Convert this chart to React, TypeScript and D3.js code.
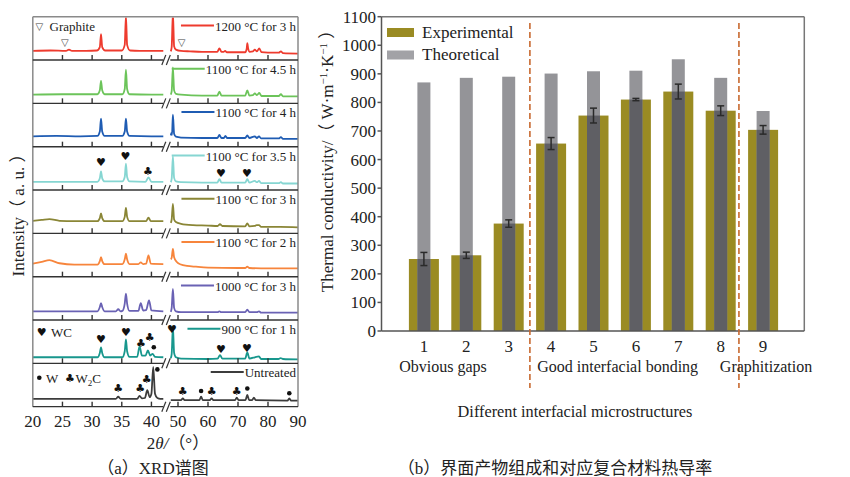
import React, { useEffect, useRef } from 'react';
import * as d3 from 'd3';

type Pt = [number, number];

// ---------------- (a) XRD data ----------------
const xrdLabels = [
  '1200 °C for 3 h',
  '1100 °C for 4.5 h',
  '1100 °C for 4 h',
  '1100 °C for 3.5 h',
  '1100 °C for 3 h',
  '1100 °C for 2 h',
  '1000 °C for 3 h',
  '900 °C for 1 h',
  'Untreated',
];
const xrdColors = ['#ee3b2e', '#6cc45a', '#1f5cb3', '#86d6d2', '#8a8636', '#f7853c', '#6a62b4', '#18978d', '#3c3c3c'];

const p1200: Pt[] = [
  [20, 21], [23, 22], [25.6, 21], [26.1, 24], [26.6, 21], [29, 21], [30.8, 22], [31.3, 30], [31.5, 60], [31.7, 30], [32.2, 22],
  [35, 22], [35.5, 35], [35.7, 102], [35.9, 35], [36.4, 22], [38, 21], [42, 21],
  [47.6, 20], [47.9, 30], [48.3, 110], [48.7, 32], [49.3, 24], [51, 21], [54, 20], [58, 19], [63.1, 19], [63.8, 27], [64.5, 19],
  [65.2, 19], [65.7, 21], [66.3, 18], [72.4, 18], [72.9, 26], [73.1, 39], [73.4, 26], [73.9, 19], [75, 20], [75.6, 24], [76.3, 20],
  [77.1, 27], [77.8, 18], [80, 17], [83.6, 17], [84.3, 20], [85, 16], [90, 15],
];
const p1100h45: Pt[] = [
  [20, 20], [25, 21], [30, 21], [30.9, 21], [31.3, 30], [31.5, 52], [31.7, 30], [32.1, 21], [35.1, 21], [35.5, 33], [35.7, 78],
  [35.9, 33], [36.3, 21], [40, 20], [42, 20],
  [47.6, 20], [47.9, 28], [48.3, 83], [48.7, 30], [49.3, 22], [51, 20], [58, 18], [63.1, 18], [63.8, 27], [64.5, 18], [72.4, 18],
  [73.1, 30], [73.8, 18], [75, 19], [75.6, 23], [76.3, 19], [77.1, 24], [77.8, 17], [83.6, 17], [84.3, 21], [85, 16], [90, 16],
];
const p1100h4: Pt[] = [
  [20, 24], [24, 25], [28, 24], [30.9, 25], [31.3, 35], [31.5, 65], [31.7, 35], [32.1, 25], [35.1, 25], [35.5, 35], [35.7, 65],
  [35.9, 35], [36.3, 25], [40, 24], [42, 24],
  [47.6, 26], [47.8, 32], [48.0, 27], [48.3, 74], [48.7, 30], [49.3, 23], [51, 21], [58, 20], [63.1, 20], [63.8, 27], [64.5, 20],
  [65.3, 20], [65.8, 25], [66.4, 20], [72.4, 20], [73.1, 26], [73.8, 20], [75.6, 24], [76.3, 20], [77, 24], [77.7, 19], [83.6, 19],
  [84.3, 22], [85, 18], [90, 18],
];
const p1100h35: Pt[] = [
  [20, 19], [25, 19], [30.9, 19], [31.3, 27], [31.5, 43], [31.7, 27], [32.1, 20], [35.1, 20], [35.5, 30], [35.7, 61], [35.9, 30],
  [36.3, 20], [39.0, 19], [39.5, 29], [40.0, 19], [42, 19],
  [47.6, 18], [47.9, 26], [48.3, 78], [48.7, 28], [49.3, 20], [51, 18], [58, 17], [63.1, 17], [63.8, 25], [64.5, 17], [72.4, 17],
  [73.1, 25], [73.8, 17], [75.6, 21], [76.3, 18], [77, 21], [77.7, 16], [83.6, 16], [84.3, 18], [85, 15], [90, 15],
];
const p1100h3: Pt[] = [
  [20, 29], [21.5, 31], [22.8, 33], [24.5, 29], [27, 28], [30.9, 28], [31.3, 35], [31.5, 46], [31.7, 35], [32.1, 28], [35.1, 28],
  [35.5, 38], [35.7, 59], [35.9, 38], [36.3, 28], [39.1, 28], [39.5, 36], [39.9, 28], [42, 28],
  [47.6, 24], [47.9, 32], [48.3, 68], [48.7, 32], [49.3, 26], [51, 22], [55, 19], [60, 18], [63.2, 17], [64, 21], [64.8, 17],
  [72.4, 16], [73.1, 23], [73.8, 16], [75.6, 17], [76.2, 19], [77, 19], [77.7, 15], [84, 15], [90, 14],
];
const p1100h2: Pt[] = [
  [20, 30], [21.5, 34], [22.8, 38], [24.5, 31], [27, 28], [30.9, 28], [31.3, 36], [31.5, 45], [31.7, 36], [32.1, 29], [35.1, 29],
  [35.5, 40], [35.7, 53], [35.9, 40], [36.3, 29], [37.8, 29], [38.2, 33], [38.6, 29], [39.1, 30], [39.5, 49], [39.9, 30], [42, 29],
  [47.6, 40], [47.9, 44], [48.3, 64], [48.7, 45], [49.6, 34], [51, 28], [53, 25], [56, 23], [60, 21], [70, 20], [72.4, 20],
  [73.1, 23], [73.8, 20], [80, 19], [90, 19],
];
const p1000h3: Pt[] = [
  [20, 20], [25, 20], [30.9, 20], [31.3, 30], [31.5, 39], [31.7, 30], [32.1, 20], [34.0, 20], [34.4, 25], [34.8, 20], [35.1, 21],
  [35.5, 38], [35.7, 61], [35.9, 38], [36.3, 21], [37.8, 21], [38.2, 39], [38.6, 22], [39.1, 23], [39.6, 45], [40.0, 22], [42, 20],
  [47.6, 19], [47.9, 28], [48.3, 72], [48.7, 28], [49.3, 20], [51, 18], [60, 18], [63.2, 18], [63.8, 20], [64.4, 18], [72.4, 18],
  [73.1, 24], [73.8, 18], [76.3, 18], [77, 20], [77.7, 17], [90, 17],
];
const p900h1: Pt[] = [
  [20, 14], [25, 14], [30.9, 14], [31.3, 24], [31.5, 37], [31.7, 24], [32.1, 14], [35.1, 14], [35.5, 28], [35.7, 55], [35.9, 28],
  [36.3, 15], [37.6, 15], [38.0, 39], [38.4, 18], [39.0, 18], [39.4, 30], [39.8, 18], [40.2, 22], [40.6, 15], [42, 14],
  [47.6, 12], [47.9, 22], [48.3, 86], [48.7, 24], [49.3, 14], [51, 11], [60, 10], [63.2, 11], [64, 19], [64.8, 11], [72.4, 11],
  [73.1, 25], [73.8, 11], [75.6, 14], [76.1, 15], [77, 16], [77.7, 10], [83.5, 10], [84.2, 12], [85, 10], [90, 9],
];
const pUntreated: Pt[] = [
  [20, 18], [25, 18], [30, 18], [34.0, 18], [34.4, 23], [34.8, 18], [37.6, 18], [38.0, 25], [38.4, 19], [38.9, 20], [39.3, 38],
  [39.7, 22], [40.0, 30], [40.3, 92], [40.6, 30], [41.0, 20], [41.5, 18], [42, 18],
  [47.6, 15], [51.0, 15], [51.6, 19], [52.2, 15], [57.1, 15], [57.7, 23], [58.3, 15], [60.6, 15], [61.2, 19], [61.8, 15],
  [69.0, 15], [69.6, 21], [70.2, 15], [72.5, 15], [73.1, 27], [73.7, 15], [74.7, 15], [75.3, 21], [75.9, 15], [86.5, 14],
  [87.1, 19], [87.7, 14], [90, 14],
];
const xrdSeries: Pt[][] = [p1200, p1100h45, p1100h4, p1100h35, p1100h3, p1100h2, p1000h3, p900h1, pUntreated];

const xrdTicksLeft = [20, 25, 30, 35, 40];
const xrdTicksRight = [50, 60, 70, 80, 90];

// phase markers: panel index, 2theta, intensity level, symbol
const xrdMarkers: { panel: number; theta: number; value: number; sym: string }[] = [
  { panel: 0, theta: 25.4, value: 40, sym: 'tri' },
  { panel: 0, theta: 51.2, value: 41, sym: 'tri' },
  { panel: 3, theta: 31.5, value: 65, sym: 'heart' },
  { panel: 3, theta: 35.6, value: 79, sym: 'heart' },
  { panel: 3, theta: 39.4, value: 44, sym: 'club' },
  { panel: 3, theta: 64.3, value: 38, sym: 'heart' },
  { panel: 3, theta: 73.0, value: 38, sym: 'heart' },
  { panel: 7, theta: 31.5, value: 56, sym: 'heart' },
  { panel: 7, theta: 35.7, value: 71, sym: 'heart' },
  { panel: 7, theta: 38.25, value: 47, sym: 'club' },
  { panel: 7, theta: 39.7, value: 60, sym: 'club' },
  { panel: 7, theta: 40.4, value: 37, sym: 'dot' },
  { panel: 7, theta: 48.0, value: 80, sym: 'heart' },
  { panel: 7, theta: 64.3, value: 33, sym: 'heart' },
  { panel: 7, theta: 73.0, value: 36, sym: 'heart' },
  { panel: 8, theta: 41.0, value: 86, sym: 'dot' },
  { panel: 8, theta: 39.2, value: 64, sym: 'club' },
  { panel: 8, theta: 38.1, value: 42, sym: 'club' },
  { panel: 8, theta: 34.4, value: 42, sym: 'club' },
  { panel: 8, theta: 51.6, value: 35, sym: 'club' },
  { panel: 8, theta: 57.7, value: 36, sym: 'dot' },
  { panel: 8, theta: 61.2, value: 35, sym: 'club' },
  { panel: 8, theta: 69.6, value: 35, sym: 'club' },
  { panel: 8, theta: 73.1, value: 42, sym: 'dot' },
  { panel: 8, theta: 87.1, value: 31, sym: 'dot' },
];

// ---------------- (b) thermal conductivity data ----------------
const categories = ['1', '2', '3', '4', '5', '6', '7', '8', '9'];
const experimental = [252, 265, 376, 656, 754, 810, 838, 771, 704];
const experimentalError = [23, 11, 13, 21, 26, 4, 26, 17, 15];
const theoretical = [870, 886, 890, 901, 909, 911, 951, 886, 770];
const groupLabels = ['Obvious gaps', 'Good interfacial bonding', 'Graphitization'];
const yTicks = [0, 100, 200, 300, 400, 500, 600, 700, 800, 900, 1000, 1100];

const SERIF = "'Liberation Serif','Times New Roman',serif";
const MIXED = "'Liberation Serif','Noto Sans CJK SC',serif";
const SYM = "'DejaVu Sans',sans-serif";

export default function App() {
  const ref = useRef<SVGSVGElement>(null);

  useEffect(() => {
    const svg = d3.select(ref.current as SVGSVGElement);
    svg.selectAll('*').remove();
    const defs = svg.append('defs');

    // ================= (a) XRD =================
    const top0 = 16.7;
    const ph = 43.33;
    const left = 32.8;
    const right = 298;
    const xL = d3.scaleLinear().domain([20, 42]).range([32.8, 163.3]);
    const xR = d3.scaleLinear().domain([47.5, 90]).range([170.5, 298]);
    const xOf = (t: number) => (t < 45 ? xL(t) : xR(t));
    const panelY = (i: number) => d3.scaleLinear().domain([0, 100]).range([top0 + (i + 1) * ph, top0 + i * ph]);

    xrdSeries.forEach((pts, i) => {
      const y = panelY(i);
      const id = `xclip${i}`;
      defs.append('clipPath').attr('id', id).append('rect')
        .attr('x', left).attr('y', top0 + i * ph + 0.8).attr('width', right - left).attr('height', ph - 1);
      const line = d3.line<Pt>().x(d => xOf(d[0])).y(d => y(d[1])).curve(d3.curveMonotoneX);
      [pts.filter(d => d[0] < 45), pts.filter(d => d[0] > 45)].forEach(seg => {
        svg.append('path').attr('d', line(seg) || '').attr('fill', 'none')
          .attr('stroke', xrdColors[i]).attr('stroke-width', 1.8).attr('stroke-linejoin', 'round')
          .attr('clip-path', `url(#${id})`);
      });
      const ptop = top0 + i * ph;
      const t = svg.append('text').attr('x', 296).attr('y', ptop + 14).attr('text-anchor', 'end')
        .attr('font-family', SERIF).attr('font-size', 13).attr('fill', '#222').text(xrdLabels[i]);
      const w = (t.node() as SVGTextElement).getComputedTextLength();
      svg.append('line').attr('x1', 296 - w - 34).attr('x2', 296 - w - 1)
        .attr('y1', ptop + 8.7).attr('y2', ptop + 8.7).attr('stroke', xrdColors[i]).attr('stroke-width', 2);
    });

    // frame
    const fr = svg.append('g').attr('stroke', '#8a8a8a').attr('stroke-width', 1.5);
    fr.append('line').attr('x1', left).attr('x2', right).attr('y1', top0).attr('y2', top0);
    fr.append('line').attr('x1', left).attr('x2', left).attr('y1', top0).attr('y2', top0 + 9 * ph);
    fr.append('line').attr('x1', right).attr('x2', right).attr('y1', top0).attr('y2', top0 + 9 * ph);

    for (let k = 1; k <= 9; k++) {
      const yy = top0 + k * ph;
      const g = svg.append('g').attr('stroke', '#333').attr('stroke-width', 1.4);
      g.append('line').attr('x1', left).attr('x2', 163.3).attr('y1', yy).attr('y2', yy);
      g.append('line').attr('x1', 170.3).attr('x2', right).attr('y1', yy).attr('y2', yy);
      xrdTicksLeft.slice(1).forEach(tk => {
        g.append('line').attr('x1', xL(tk)).attr('x2', xL(tk)).attr('y1', yy).attr('y2', yy - 5);
      });
      xrdTicksRight.slice(0, 4).forEach(tk => {
        g.append('line').attr('x1', xR(tk)).attr('x2', xR(tk)).attr('y1', yy).attr('y2', yy - 5);
      });
      [163.8, 168.3].forEach(cx => {
        g.append('line').attr('x1', cx - 2).attr('x2', cx + 2).attr('y1', yy + 5).attr('y2', yy - 5).attr('stroke-width', 1.2);
      });
    }

    // bottom tick labels
    const tl = svg.append('g').attr('font-family', SERIF).attr('font-size', 17).attr('fill', '#222').attr('text-anchor', 'middle');
    xrdTicksLeft.forEach(tk => tl.append('text').attr('x', xL(tk)).attr('y', 426.5).text(String(tk)));
    xrdTicksRight.forEach(tk => tl.append('text').attr('x', xR(tk)).attr('y', 426.5).text(String(tk)));

    // markers
    xrdMarkers.forEach(m => {
      const y = panelY(m.panel)(m.value);
      const x = xOf(m.theta);
      if (m.sym === 'dot') {
        svg.append('circle').attr('cx', x).attr('cy', y).attr('r', 2.3).attr('fill', '#111');
      } else {
        const ch = m.sym === 'heart' ? '♥' : m.sym === 'club' ? '♣' : '▽';
        svg.append('text').attr('x', x).attr('y', y).attr('dy', '0.35em').attr('text-anchor', 'middle')
          .attr('font-family', SYM).attr('font-size', m.sym === 'tri' ? 10 : 11).attr('fill', m.sym === 'tri' ? '#444' : '#111').text(ch);
      }
    });

    // phase legends
    svg.append('text').attr('x', 39.3).attr('y', 26).attr('dy', '0.35em').attr('text-anchor', 'middle')
      .attr('font-family', SYM).attr('font-size', 10).attr('fill', '#444').text('▽');
    svg.append('text').attr('x', 49.5).attr('y', 31).attr('font-family', SERIF).attr('font-size', 13).attr('fill', '#222').text('Graphite');
    svg.append('text').attr('x', 41.7).attr('y', 331.7).attr('dy', '0.35em').attr('text-anchor', 'middle')
      .attr('font-family', SYM).attr('font-size', 11).attr('fill', '#111').text('♥');
    svg.append('text').attr('x', 51).attr('y', 336.5).attr('font-family', SERIF).attr('font-size', 13).attr('fill', '#222').text('WC');
    svg.append('circle').attr('cx', 39.3).attr('cy', 377.7).attr('r', 2.3).attr('fill', '#111');
    svg.append('text').attr('x', 46).attr('y', 382.5).attr('font-family', SERIF).attr('font-size', 13).attr('fill', '#222').text('W');
    svg.append('text').attr('x', 70).attr('y', 377.7).attr('dy', '0.35em').attr('text-anchor', 'middle')
      .attr('font-family', SYM).attr('font-size', 11).attr('fill', '#111').text('♣');
    const w2c = svg.append('text').attr('x', 75.5).attr('y', 382.5).attr('font-family', SERIF).attr('font-size', 13).attr('fill', '#222');
    w2c.append('tspan').text('W');
    w2c.append('tspan').attr('font-size', 9).attr('dy', 3).text('2');
    w2c.append('tspan').attr('dy', -3).text('C');

    // axis titles
    const yt = svg.append('text').attr('transform', 'translate(24,211) rotate(-90)').attr('text-anchor', 'middle')
      .attr('font-family', MIXED).attr('font-size', 17).attr('fill', '#222');
    yt.text('Intensity（ a. u. ）');
    const xt = svg.append('text').attr('x', 178).attr('y', 449).attr('text-anchor', 'middle')
      .attr('font-family', MIXED).attr('font-size', 17).attr('fill', '#222');
    xt.append('tspan').text('2');
    xt.append('tspan').attr('font-style', 'italic').text('θ/');
    xt.append('tspan').text('（°）');
    svg.append('text').attr('x', 153).attr('y', 474).attr('text-anchor', 'middle')
      .attr('font-family', MIXED).attr('font-size', 17).attr('fill', '#222').text('（a）XRD谱图');

    // ================= (b) Thermal conductivity =================
    const bx0 = 381.5;
    const bx1 = 804.3;
    const by0 = 331;
    const by1 = 16.7;
    const xs = d3.scaleLinear().domain([0, 10]).range([381.5, 805.5]);
    const ys = d3.scaleLinear().domain([0, 1100]).range([by0, by1]);

    const bars = svg.append('g');
    categories.forEach((c, i) => {
      const cx = xs(i + 1);
      const e = experimental[i];
      const th = theoretical[i];
      bars.append('rect').attr('x', cx - 15).attr('width', 30).attr('y', ys(e)).attr('height', ys(0) - ys(e))
        .attr('fill', '#9a8b23');
      bars.append('rect').attr('x', cx - 6.5).attr('width', 13).attr('y', ys(th)).attr('height', ys(0) - ys(th))
        .attr('fill', '#949498');
      const lo = Math.min(e, th);
      bars.append('rect').attr('x', cx - 6.5).attr('width', 13).attr('y', ys(lo)).attr('height', ys(0) - ys(lo))
        .attr('fill', '#5f5f64');
      const err = experimentalError[i];
      const eg = bars.append('g').attr('stroke', '#2a2a2a').attr('stroke-width', 1.5);
      eg.append('line').attr('x1', cx).attr('x2', cx).attr('y1', ys(e + err)).attr('y2', ys(e - err));
      eg.append('line').attr('x1', cx - 3.5).attr('x2', cx + 3.5).attr('y1', ys(e + err)).attr('y2', ys(e + err));
      eg.append('line').attr('x1', cx - 3.5).attr('x2', cx + 3.5).attr('y1', ys(e - err)).attr('y2', ys(e - err));
      svg.append('text').attr('x', cx).attr('y', 351.5).attr('text-anchor', 'middle')
        .attr('font-family', SERIF).attr('font-size', 17).attr('fill', '#222').text(c);
    });

    // frame / axes
    const bf = svg.append('g').attr('stroke', '#777').attr('stroke-width', 1.5).attr('fill', 'none');
    bf.append('line').attr('x1', bx0).attr('x2', bx1).attr('y1', by1).attr('y2', by1);
    bf.append('line').attr('x1', bx1).attr('x2', bx1).attr('y1', by1).attr('y2', by0);
    bf.append('line').attr('x1', bx0).attr('x2', bx0).attr('y1', by1).attr('y2', by0).attr('stroke', '#555');
    bf.append('line').attr('x1', bx0).attr('x2', bx1).attr('y1', by0).attr('y2', by0).attr('stroke', '#555');
    yTicks.forEach(v => {
      bf.append('line').attr('x1', bx0 - 4).attr('x2', bx0).attr('y1', ys(v)).attr('y2', ys(v)).attr('stroke', '#555');
      svg.append('text').attr('x', 376).attr('y', ys(v)).attr('dy', '0.35em').attr('text-anchor', 'end')
        .attr('font-family', SERIF).attr('font-size', 17).attr('fill', '#222').text(String(v));
    });

    // dividers
    [3.5, 8.43].forEach(v => {
      svg.append('line').attr('x1', xs(v)).attr('x2', xs(v)).attr('y1', 23).attr('y2', 388)
        .attr('stroke', '#c8692f').attr('stroke-width', 1.6).attr('stroke-dasharray', '6,3');
    });

    // group labels
    const groupPos = [1.45, 5.57, 9.07];
    groupLabels.forEach((lab, i) => {
      svg.append('text').attr('x', xs(groupPos[i])).attr('y', 372).attr('text-anchor', 'middle')
        .attr('font-family', SERIF).attr('font-size', 16).attr('fill', '#222').text(lab);
    });
    svg.append('text').attr('x', 575).attr('y', 417).attr('text-anchor', 'middle')
      .attr('font-family', SERIF).attr('font-size', 16.3).attr('fill', '#222').text('Different interfacial microstructures');

    // legend
    svg.append('rect').attr('x', 387).attr('y', 28).attr('width', 27).attr('height', 9).attr('fill', '#9a8b23');
    svg.append('rect').attr('x', 387).attr('y', 50.5).attr('width', 27).attr('height', 9).attr('fill', '#a2a2a6');
    svg.append('text').attr('x', 422).attr('y', 37.5).attr('font-family', SERIF).attr('font-size', 17).attr('fill', '#222').text('Experimental');
    svg.append('text').attr('x', 422).attr('y', 59.5).attr('font-family', SERIF).attr('font-size', 17).attr('fill', '#222').text('Theoretical');

    // y title
    const byt = svg.append('text').attr('transform', 'translate(333,157) rotate(-90)').attr('text-anchor', 'middle')
      .attr('font-family', MIXED).attr('font-size', 17).attr('fill', '#222');
    byt.append('tspan').text('Thermal conductivity/（ W·m');
    byt.append('tspan').attr('font-size', 11).attr('dy', -6).text('−1');
    byt.append('tspan').attr('dy', 6).text('·K');
    byt.append('tspan').attr('font-size', 11).attr('dy', -6).text('−1');
    byt.append('tspan').attr('dy', 6).text(' ）');

    svg.append('text').attr('x', 555).attr('y', 474).attr('text-anchor', 'middle')
      .attr('font-family', MIXED).attr('font-size', 17).attr('fill', '#222').text('（b）界面产物组成和对应复合材料热导率');
  }, []);

  return (
    <svg ref={ref} width={850} height={477} style={{ position: 'absolute', left: 0, top: 0, background: '#fff' }} />
  );
}
